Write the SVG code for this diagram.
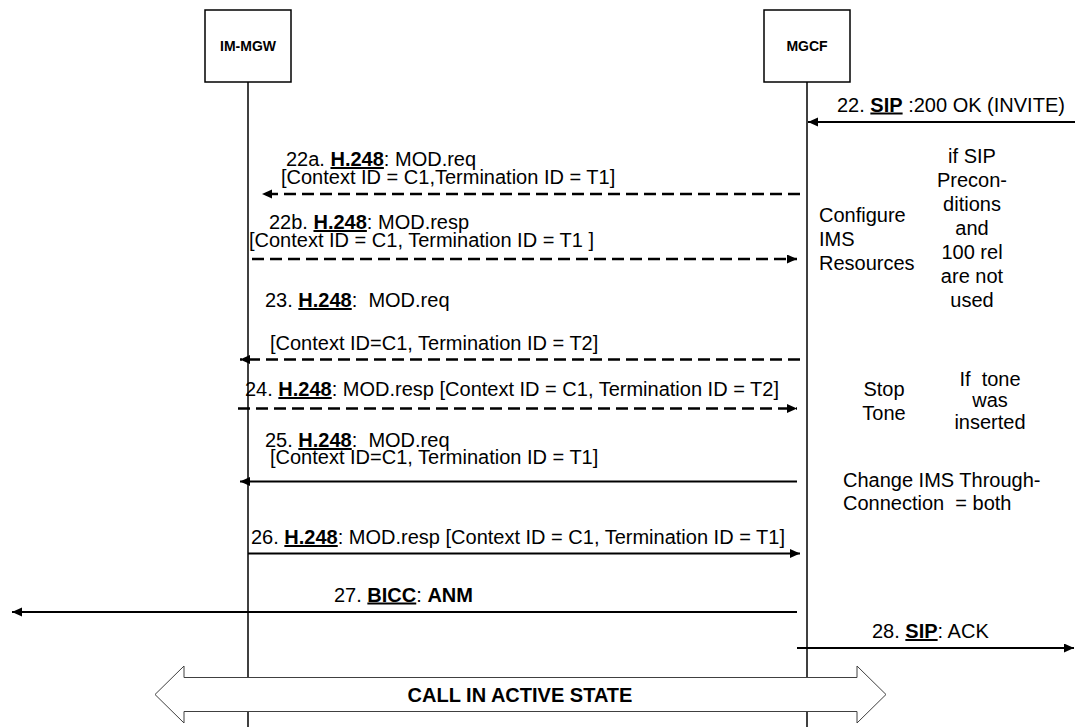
<svg xmlns="http://www.w3.org/2000/svg" width="1075" height="727" viewBox="0 0 1075 727">
<style>
text{font-family:"Liberation Sans",Arial,sans-serif;font-size:20px;fill:#000;white-space:pre}
.b{font-weight:bold}
.u{font-weight:bold;text-decoration:underline}
.lbl{font-size:14px;font-weight:bold}
.life{stroke:#000;stroke-width:1.5;fill:none}
.box{stroke:#000;stroke-width:1.5;fill:#fff}
.msg{stroke:#000;stroke-width:2;fill:none;marker-end:url(#ah)}
.dash{stroke-dasharray:12 6;stroke-width:2.5}
.c{text-anchor:middle}
</style>
<defs>
<marker id="ah" markerUnits="userSpaceOnUse" markerWidth="11" markerHeight="10" refX="10" refY="4.5" orient="auto">
<path d="M0,0 L10,4.5 L0,9 z" fill="#000"/>
</marker>
</defs>
<g id="im-mgw">
<line class="life" x1="248" y1="82" x2="248" y2="727"/>
<rect class="box" x="205" y="10" width="86" height="72"/>
<text class="lbl c" x="248" y="51">IM-MGW</text>
</g>
<g id="mgcf">
<line class="life" x1="807" y1="82" x2="807" y2="727"/>
<rect class="box" x="764" y="10" width="86" height="72"/>
<text class="lbl c" x="807" y="51">MGCF</text>
</g>
<g id="connectors">
<line class="msg" x1="1075" y1="122" x2="808" y2="122"/>
<line class="msg dash" x1="800" y1="194" x2="262" y2="194"/>
<line class="msg dash" x1="252" y1="259" x2="797" y2="259"/>
<line class="msg dash" x1="800" y1="359.5" x2="240" y2="359.5"/>
<line class="msg dash" x1="238" y1="408.5" x2="797" y2="408.5"/>
<line class="msg" x1="797" y1="481.5" x2="240" y2="481.5"/>
<line class="msg" x1="248" y1="553.5" x2="800" y2="553.5"/>
<line class="msg" x1="797" y1="612" x2="12" y2="612"/>
<line class="msg" x1="797" y1="648" x2="1074" y2="648"/>
</g>
<g id="labels">
<text x="837" y="111.5">22. <tspan class="u">SIP</tspan> :200 OK (INVITE)</text>
<text x="286" y="166">22a. <tspan class="u">H.248</tspan>: MOD.req</text>
<text x="281" y="183.5">[Context ID = C1,Termination ID = T1]</text>
<text x="269" y="229">22b. <tspan class="u">H.248</tspan>: MOD.resp</text>
<text x="249" y="246.5">[Context ID = C1, Termination ID = T1 ]</text>
<text x="265" y="307">23. <tspan class="u">H.248</tspan>:  MOD.req</text>
<text x="270" y="350">[Context ID=C1, Termination ID = T2]</text>
<text x="245" y="396">24. <tspan class="u">H.248</tspan>: MOD.resp [Context ID = C1, Termination ID = T2]</text>
<text x="265" y="447">25. <tspan class="u">H.248</tspan>:  MOD.req</text>
<text x="270" y="464">[Context ID=C1, Termination ID = T1]</text>
<text x="251" y="544">26. <tspan class="u">H.248</tspan>: MOD.resp [Context ID = C1, Termination ID = T1]</text>
<text x="334" y="601.5">27. <tspan class="u">BICC</tspan>: <tspan class="b">ANM</tspan></text>
<text x="872" y="638">28. <tspan class="u">SIP</tspan>: ACK</text>
</g>
<g id="notes">
<text x="819" y="222">Configure</text>
<text x="819" y="246">IMS</text>
<text x="819" y="270">Resources</text>
<text class="c" x="972" y="163">if SIP</text>
<text class="c" x="972" y="187">Precon-</text>
<text class="c" x="972" y="210.5">ditions</text>
<text class="c" x="972" y="235">and</text>
<text class="c" x="972" y="259">100 rel</text>
<text class="c" x="972" y="283">are not</text>
<text class="c" x="972" y="307">used</text>
<text class="c" x="884" y="396">Stop</text>
<text class="c" x="884" y="420">Tone</text>
<text class="c" x="990" y="386">If  tone</text>
<text class="c" x="990" y="407">was</text>
<text class="c" x="990" y="429">inserted</text>
<text x="843" y="487">Change IMS Through-</text>
<text x="843" y="510">Connection  = both</text>
</g>
<g id="call-active">
<polygon points="155,694.5 184,666 184,677.5 857,677.5 857,666 886,694.5 857,723 857,711.5 184,711.5 184,723" fill="#fff" stroke="#404040" stroke-width="1"/>
<text class="b c" x="520" y="702">CALL IN ACTIVE STATE</text>
</g>
</svg>
